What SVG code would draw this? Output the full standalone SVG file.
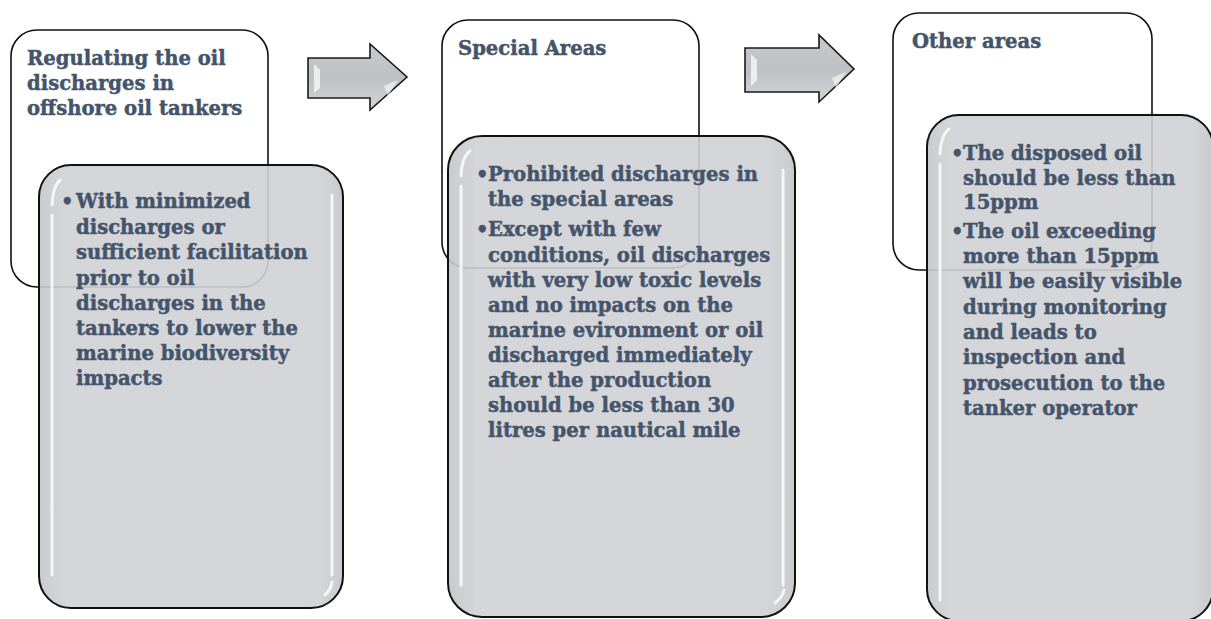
<svg xmlns="http://www.w3.org/2000/svg" width="1211" height="619" viewBox="0 0 1211 619">
<style>
.hd{fill:#fff;stroke:#111;stroke-width:1.6}
.card{fill:url(#cardg);fill-opacity:0.9;stroke:#111;stroke-width:2}
.gl{fill:none;stroke:#fff;stroke-width:3;stroke-linecap:round;opacity:0.8}
.t{font-family:"DejaVu Serif","Liberation Serif",serif;font-weight:bold;font-size:19.6px;fill:#44546A;stroke:#44546A;stroke-width:0.45px}
.arw{fill:url(#arg);stroke:#1a1a1a;stroke-width:1.6;stroke-linejoin:miter}
</style>
<defs>
<linearGradient id="cardg" x1="0" y1="0" x2="1" y2="0">
<stop offset="0" stop-color="#c4c5c8"/>
<stop offset="0.08" stop-color="#d0d1d4"/>
<stop offset="0.92" stop-color="#d0d1d4"/>
<stop offset="1" stop-color="#c4c5c8"/>
</linearGradient>
<linearGradient id="arg" x1="0" y1="0" x2="0" y2="1">
<stop offset="0" stop-color="#c9cacd"/>
<stop offset="0.5" stop-color="#bfc0c3"/>
<stop offset="1" stop-color="#d3d4d6"/>
</linearGradient>
</defs>

<g id="node-regulating">
<rect class="hd" x="11" y="30" width="257" height="257" rx="26"/>
<text class="t" x="27"><tspan x="27" y="65">Regulating the oil</tspan><tspan x="27" y="90">discharges in</tspan><tspan x="27" y="115">offshore oil tankers</tspan></text>
</g>
<g id="node-special">
<rect class="hd" x="442" y="20" width="257" height="248" rx="26"/>
<text class="t" x="458" y="55">Special Areas</text>
</g>
<g id="node-other">
<rect class="hd" x="893" y="13" width="259" height="257" rx="26"/>
<text class="t" x="912" y="48">Other areas</text>
</g>

<g id="node-regulating-detail">
<rect class="card" x="39" y="165" width="304" height="443" rx="32"/>
<path class="gl" d="M52 205 Q53 186 60 180"/>
<path class="gl" d="M52 215 L52 575" opacity="0.65"/>
<path class="gl" d="M332 195 L332 575" opacity="0.65"/>
<path class="gl" d="M325 595 Q331 590 332 582"/>
<text class="t"><tspan x="61" y="208">•</tspan><tspan x="76" y="208">With minimized</tspan><tspan x="76" y="234">discharges  or</tspan><tspan x="76" y="259">sufficient facilitation</tspan><tspan x="76" y="285">prior to  oil</tspan><tspan x="76" y="310">discharges in the</tspan><tspan x="76" y="335">tankers to lower the</tspan><tspan x="76" y="360">marine biodiversity</tspan><tspan x="76" y="385">impacts</tspan></text>
</g>
<g id="node-special-detail">
<rect class="card" x="448" y="136" width="347" height="481" rx="34"/>
<path class="gl" d="M461 176 Q462 157 470 151"/>
<path class="gl" d="M461 186 L461 585" opacity="0.65"/>
<path class="gl" d="M783 170 L783 585" opacity="0.65"/>
<path class="gl" d="M775 603 Q782 598 784 590"/>
<text class="t"><tspan x="476" y="181">•</tspan><tspan x="488" y="181">Prohibited discharges in</tspan><tspan x="488" y="206">the special areas</tspan><tspan x="476" y="236">•</tspan><tspan x="488" y="236">Except with few</tspan><tspan x="488" y="261.5">conditions, oil discharges</tspan><tspan x="488" y="286.5">with very low toxic levels</tspan><tspan x="488" y="311.5">and no impacts on the</tspan><tspan x="488" y="336.5">marine evironment or oil</tspan><tspan x="488" y="361.5">discharged immediately</tspan><tspan x="488" y="386.5">after the production</tspan><tspan x="488" y="411.5">should be less than 30</tspan><tspan x="488" y="437">litres per nautical mile</tspan></text>
</g>
<g id="node-other-detail">
<rect class="card" x="927" y="115" width="286" height="506" rx="32"/>
<path class="gl" d="M940 154 Q941 135 949 129"/>
<path class="gl" d="M940 164 L940 600" opacity="0.65"/>
<text class="t"><tspan x="951" y="160">•</tspan><tspan x="963" y="160">The disposed oil</tspan><tspan x="963" y="184.5">should be less than</tspan><tspan x="963" y="209">15ppm</tspan><tspan x="951" y="238">•</tspan><tspan x="963" y="238">The oil exceeding</tspan><tspan x="963" y="263">more than 15ppm</tspan><tspan x="963" y="288">will be easily visible</tspan><tspan x="963" y="313.5">during monitoring</tspan><tspan x="963" y="339">and leads to</tspan><tspan x="963" y="364">inspection and</tspan><tspan x="963" y="389.5">prosecution to the</tspan><tspan x="963" y="415">tanker operator</tspan></text>
</g>

<g id="connectors">
<g id="arrow-1">
<path class="arw" d="M308 58 L370 58 L370 44 L407 77 L370 110 L370 98 L308 98 Z"/>
<path d="M314 64 L320 70 L320 88 L314 93 Z" fill="#fff" opacity="0.7"/>
<path d="M384 86 L398 80 L388 96 Z" fill="#fff" opacity="0.6"/>
</g>
<g id="arrow-2">
<path class="arw" d="M745 48 L819 48 L819 35 L854 69 L819 102 L819 92 L745 92 Z"/>
<path d="M751 54 L757 60 L757 80 L751 86 Z" fill="#fff" opacity="0.7"/>
<path d="M832 78 L846 72 L836 88 Z" fill="#fff" opacity="0.6"/>
</g>
</g>
</svg>
